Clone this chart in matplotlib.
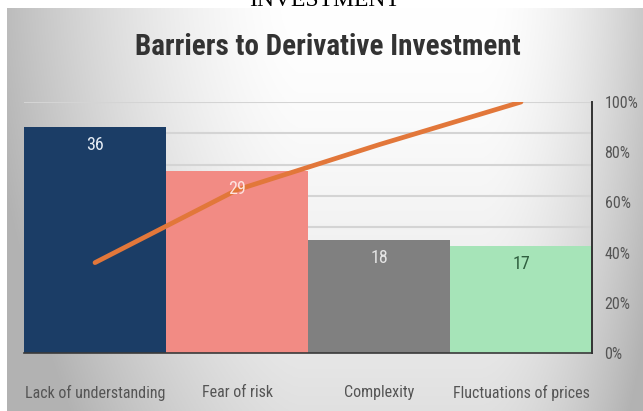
import numpy as np
import matplotlib
matplotlib.use("Agg")
import matplotlib.pyplot as plt
from matplotlib import font_manager
from matplotlib.ticker import PercentFormatter

categories = ["Lack of understanding", "Fear of risk", "Complexity", "Fluctuations of prices"]
counts = [36, 29, 18, 17]
cumulative_pct = [36, 65, 83, 100]
bar_colors = ["#1b3d66", "#f28b84", "#808080", "#a6e4b8"]
label_colors = ["#e6edf5", "#fde3df", "#e4e4e4", "#2f5f3f"]
right_ticks = [0, 20, 40, 60, 80, 100]

available = {f.name for f in font_manager.fontManager.ttflist}
narrow = next((n for n in ["Liberation Sans Narrow", "DejaVu Sans Condensed", "Roboto Condensed",
                           "Open Sans Condensed", "Liberation Sans"] if n in available), "DejaVu Sans")

W, H = 643, 411
fig = plt.figure(figsize=(W / 100, H / 100), dpi=100)
fig.patch.set_facecolor("white")

# soft gray backdrop, brightest near the upper right-centre
bx0, by0 = 7, 8
bg = fig.add_axes([bx0 / W, 0, 1 - bx0 / W, 1 - by0 / H], zorder=-10)
xs = np.linspace(bx0, W, 400)
ys = np.linspace(by0, H, 260)
X, Y = np.meshgrid(xs, ys)
left = 0.26 * np.clip((300 - X) / 293, 0, None) ** 1.55
right = 0.20 * np.clip((X - 480) / 160, 0, None) ** 1.8
vert = 0.12 * ((Y - by0) / (H - by0)) ** 1.5
shade = np.clip(1 - left - right - vert, 0.70, 1)
bg.imshow(np.dstack([shade] * 3), aspect="auto", extent=[0, 1, 0, 1], origin="upper")
bg.set_axis_off()

fig.text(325 / W, 1 - 6 / H, "INVESTMENT", family="Liberation Serif", fontsize=17,
         ha="center", va="baseline", color="black")
fig.text(328 / W, 1 - 47 / H, "Barriers to Derivative Investment", family=narrow,
         fontweight="bold", fontsize=21, ha="center", va="center", color="#333333")

ax = fig.add_axes([24 / W, 1 - 353 / H, (592 - 24) / W, (353 - 102) / H])
ax.patch.set_alpha(0)
x = np.arange(len(categories))
ax.set_ylim(0, 40)
ax.set_xlim(-0.5, len(categories) - 0.5)
for g in range(5, 41, 5):
    ax.axhline(g, color="#d4d4d4", lw=1.5, zorder=0)
ax.bar(x, counts, width=1.0, color=bar_colors, zorder=2)
ax.set_yticks([])
ax.set_xticks(x)
ax.set_xticklabels(categories, family=narrow, fontsize=11.5, color="#555555")
ax.tick_params(axis="x", length=0, pad=23)
for s in ["top", "left", "right"]:
    ax.spines[s].set_visible(False)
ax.spines["bottom"].set_color("#3a3a3a")
ax.spines["bottom"].set_linewidth(1.2)

ax2 = ax.twinx()
ax2.set_ylim(0, 100)
ax2.plot(x, cumulative_pct, color="#e2773a", lw=3.4, solid_capstyle="round", zorder=3)
ax2.set_yticks(right_ticks)
ax2.yaxis.set_major_formatter(PercentFormatter(decimals=0))
ax2.tick_params(axis="y", length=0, pad=9, labelsize=11.5, labelcolor="#555555")
for lab in ax2.get_yticklabels():
    lab.set_family(narrow)
for s in ["top", "left", "bottom"]:
    ax2.spines[s].set_visible(False)
ax2.spines["right"].set_color("#333333")
ax2.spines["right"].set_linewidth(1.4)
ax.set_zorder(1)
ax2.set_zorder(2)
ax2.patch.set_alpha(0)

# value labels sit above the cumulative line, a little below each bar top
ratio = ax2.get_ylim()[1] / ax.get_ylim()[1]
for xi, v, c in zip(x, counts, label_colors):
    ax2.annotate(str(v), xy=(xi, v * ratio), xytext=(0, -18), textcoords="offset pixels",
                 ha="center", va="center", color=c, family=narrow, fontsize=13, zorder=5)

fig.savefig("out.png", dpi=100)
